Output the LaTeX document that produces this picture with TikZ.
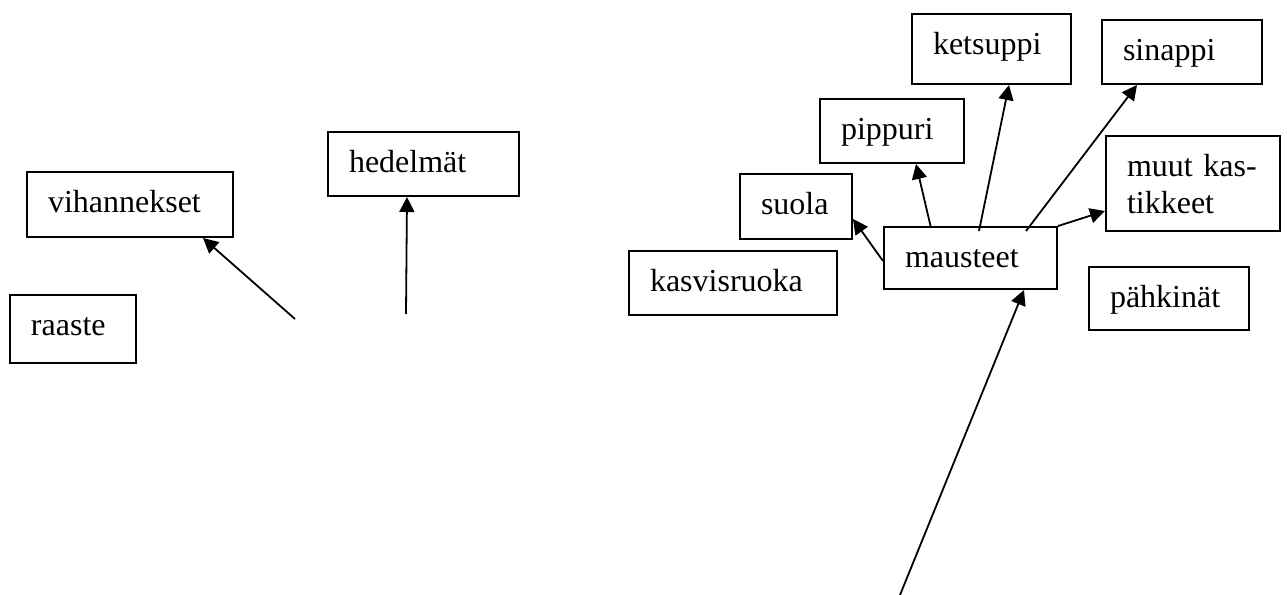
\documentclass[tikz,border=0pt]{standalone}
\usepackage{fontspec}
\setmainfont{Liberation Serif}
\usetikzlibrary{arrows.meta}

\begin{document}
\begin{tikzpicture}[
  x=0.5pt,y=-0.5pt,
  >={Triangle[length=7.5pt,width=7.5pt]},
  every node/.style={
    draw,
    rectangle,
    anchor=north west,
    line width=1pt,
    inner xsep=10.5pt,
    inner ysep=0pt,
    align=left,
    text height=20pt,
    font=\fontsize{16pt}{18.5pt}\selectfont,
  }
]
\useasboundingbox (0,0) rectangle (1287,595);

\node[text width=82pt,text depth=12.5pt] at (26,171) (vihannekset) {vihannekset};
\node[text width=74.5pt,text depth=12pt] at (327,131) (hedelmat) {hedelmät};
\node[text width=42pt,text depth=14pt] at (9,294) (raaste) {raaste};

\node[text width=58.5pt,text depth=15pt] at (911,13) (ketsuppi) {ketsuppi};
\node[text width=59pt,text depth=12pt] at (1101,19) (sinappi) {sinappi};
\node[text width=51pt,text depth=12pt] at (819,98) (pippuri) {pippuri};
\node[text width=35pt,text depth=12.5pt] at (739,173) (suola) {suola};
\node[text width=66pt,text depth=27.5pt] at (1105,135) (muut) {muut kas-\\tikkeet};
\node[text width=65.5pt,text depth=11pt] at (883,226) (mausteet) {mausteet};
\node[text width=83pt,text depth=12pt] at (628,250) (kasvisruoka) {kasvisruoka};
\node[text width=59pt,text depth=11.5pt] at (1088,266) (pahkinat) {pähkinät};

\coordinate (alku1) at (295,319);
\coordinate (alku2) at (406,314);
\coordinate (alku3) at (900,595);

\path[draw,->,line width=0.9pt] (alku1) -- ([xshift=36.5pt]vihannekset.south);
\path[draw,->,line width=0.9pt] (alku2) -- ([xshift=-8.25pt]hedelmat.south);

\path[draw,->,line width=0.9pt] ([yshift=-1.5pt]mausteet.west) -- ([yshift=-6.25pt]suola.east);
\path[draw,->,line width=0.9pt] ([xshift=-19.75pt,yshift=-1pt]mausteet.north) -- ([xshift=12pt]pippuri.south);
\path[draw,->,line width=0.9pt] ([xshift=4.25pt,yshift=-2.5pt]mausteet.north) -- ([xshift=8.75pt]ketsuppi.south);
\path[draw,->,line width=0.9pt] ([xshift=27.75pt,yshift=-2.5pt]mausteet.north) -- ([xshift=-22.5pt]sinappi.south);
\path[draw,->,line width=0.9pt] (mausteet.north east) -- ([yshift=-13.75pt]muut.west);
\path[draw,->,line width=0.9pt] (alku3) -- ([xshift=26.75pt]mausteet.south);
\end{tikzpicture}
\end{document}
